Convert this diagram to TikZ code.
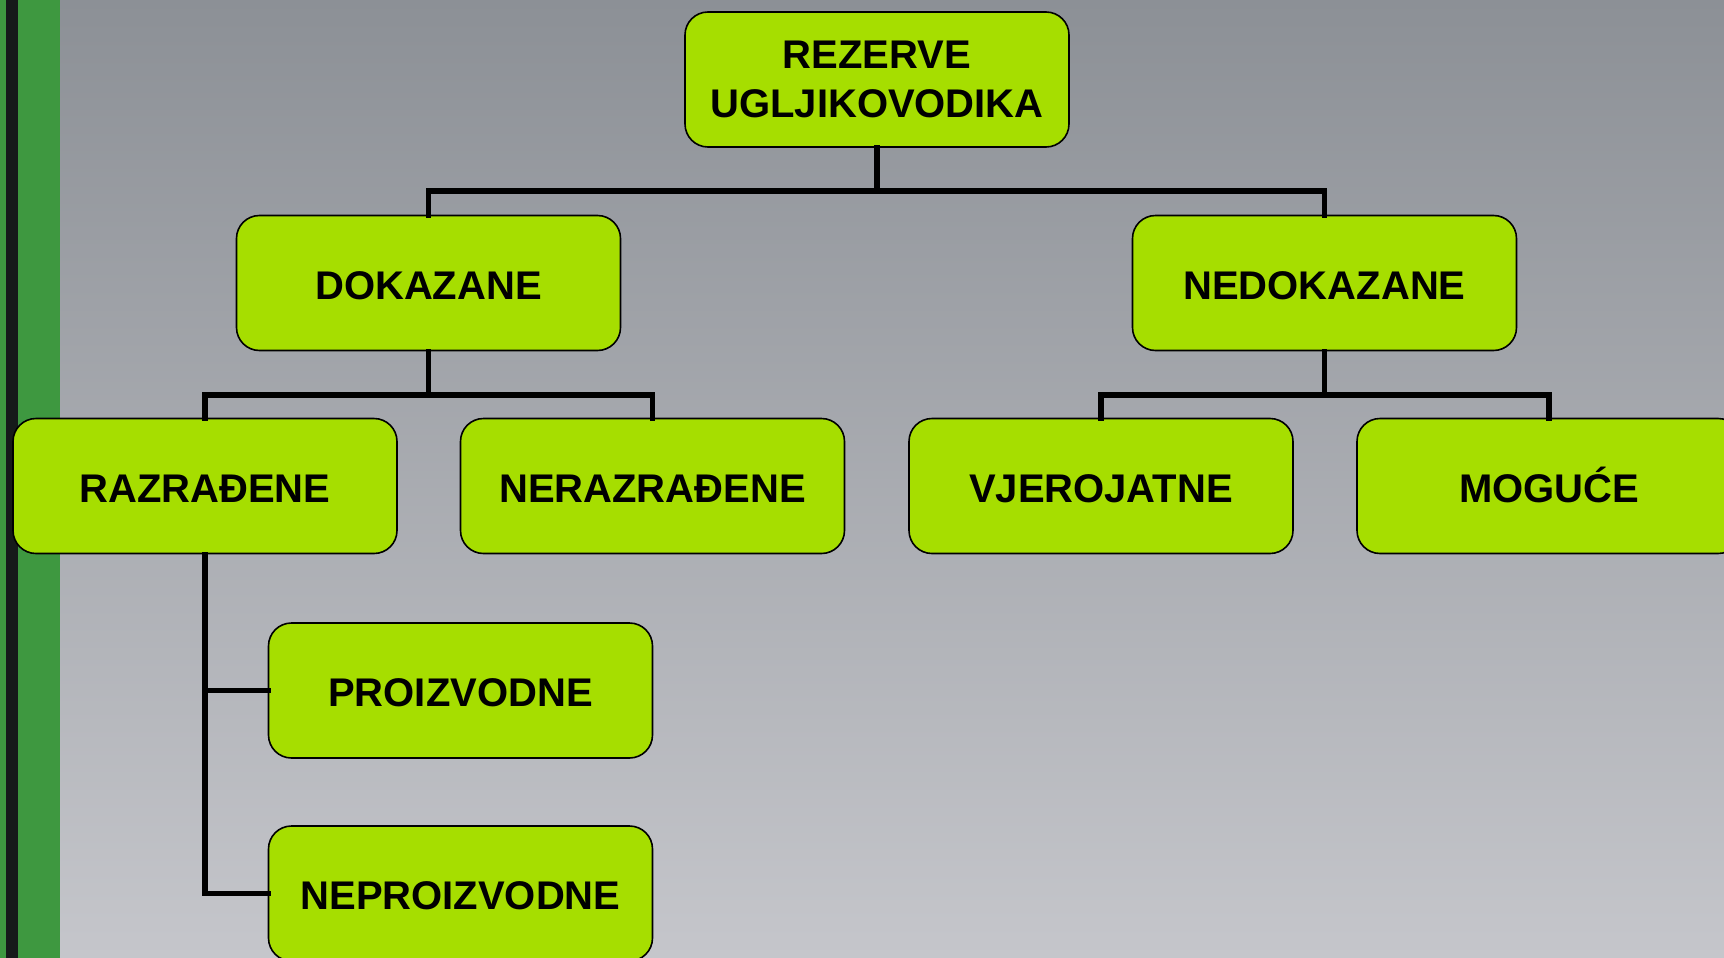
\documentclass[tikz,border=0pt]{standalone}
\usepackage{fontspec}
\setmainfont{Liberation Sans}
\definecolor{boxfill}{RGB}{166,222,0}
\definecolor{bgtop}{RGB}{140,144,150}
\definecolor{bgbot}{RGB}{197,198,203}
\definecolor{stripe}{RGB}{62,152,64}
\definecolor{stripedark}{RGB}{22,26,26}
\tikzset{
  box/.style={draw=black, line width=0.8pt, fill=boxfill, rounded corners=11.5pt,
    minimum width=192pt, minimum height=67.5pt, inner sep=0pt, align=center,
    font=\bfseries\fontsize{20}{24.5}\selectfont},
  oneline/.style={text height=16.3pt, text depth=0pt},
  conn/.style={draw=black, line width=2.8pt, line join=miter, line cap=rect}
}
\begin{document}
\begin{tikzpicture}[x=0.5pt, y=-0.5pt]
\useasboundingbox (0,0) rectangle (1724,958);
\clip (0,0) rectangle (1724,958);
\shade[top color=bgtop, bottom color=bgbot] (0,0) rectangle (1724,958);
\fill[stripe] (0,0) rectangle (60,958);
\fill[stripedark] (6,0) rectangle (18,958);

\coordinate (h1) at (0,191);
\coordinate (h2) at (0,395);

\node[box] (top) at (877,79.5) {REZERVE\\UGLJIKOVODIKA};
\node[box, oneline] (dok) at (428.5,283) {DOKAZANE};
\node[box, oneline] (nedok) at (1324.5,283) {NEDOKAZANE};
\node[box, oneline] (raz) at (205,486) {RAZRAĐENE};
\node[box, oneline] (neraz) at (652.5,486) {NERAZRAĐENE};
\node[box, oneline] (vjer) at (1101,486) {VJEROJATNE};
\node[box, oneline] (mog) at (1549,486) {MOGUĆE};
\node[box, oneline] (proiz) at (460.5,690.5) {PROIZVODNE};
\node[box, oneline] (neproiz) at (460.5,893.5) {NEPROIZVODNE};

\path[conn] (top.south) -- (top.south |- h1);
\path[conn] (dok.north) -- (dok.north |- h1) -- (nedok.north |- h1) -- (nedok.north);
\path[conn] (dok.south) -- (dok.south |- h2);
\path[conn] (raz.north) -- (raz.north |- h2) -- (neraz.north |- h2) -- (neraz.north);
\path[conn] (nedok.south) -- (nedok.south |- h2);
\path[conn] (vjer.north) -- (vjer.north |- h2) -- (mog.north |- h2) -- (mog.north);
\path[conn] (raz.south) -- (raz.south |- neproiz.west) -- (neproiz.west);
\path[conn] (raz.south |- proiz.west) -- (proiz.west);
\end{tikzpicture}
\end{document}
